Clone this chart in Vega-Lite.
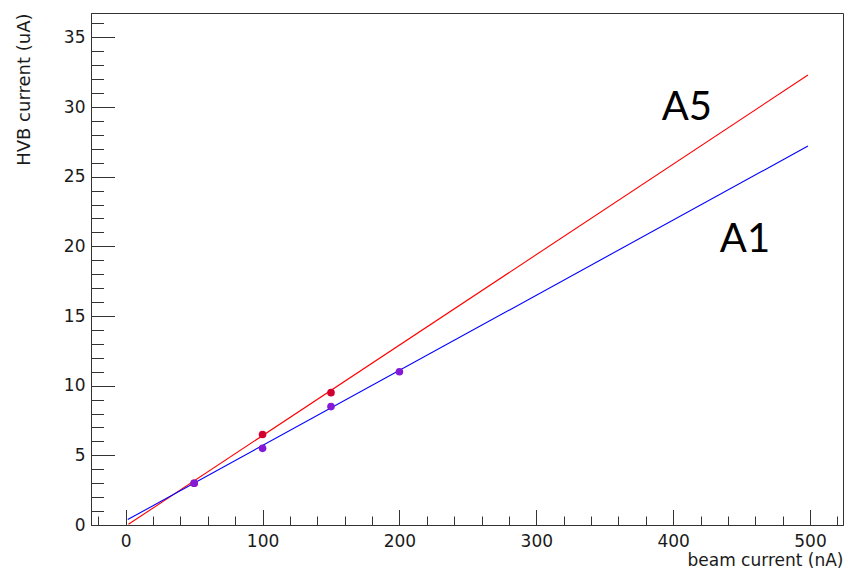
{
  "$schema": "https://vega.github.io/schema/vega-lite/v6.json",
  "width": 752,
  "height": 512,
  "autosize": {"type": "none"},
  "padding": {"left": 91, "top": 13, "right": 5, "bottom": 46},
  "background": "white",
  "config": {
    "view": {"stroke": "#333333", "strokeWidth": 1},
    "axis": {
      "grid": false,
      "domainColor": "#333333",
      "tickColor": "#333333",
      "tickWidth": 1,
      "labelFont": "DejaVu Sans",
      "labelFontSize": 17,
      "labelColor": "#1a1a1a",
      "titleFont": "DejaVu Sans",
      "titleFontSize": 17,
      "titleFontWeight": "normal",
      "titleColor": "#1a1a1a",
      "labelOverlap": false,
      "labelFlush": false,
      "labelBound": false
    }
  },
  "datasets": {
    "fits": [
      {"series": "A5", "beam": 2, "hvb": 0.05},
      {"series": "A5", "beam": 498.5, "hvb": 32.3},
      {"series": "A1", "beam": 1.5, "hvb": 0.39},
      {"series": "A1", "beam": 498.5, "hvb": 27.2}
    ],
    "measured": [
      {"series": "A5", "beam": 50, "hvb": 3.0},
      {"series": "A5", "beam": 100, "hvb": 6.5},
      {"series": "A5", "beam": 150, "hvb": 9.5},
      {"series": "A1", "beam": 50, "hvb": 3.0},
      {"series": "A1", "beam": 100, "hvb": 5.5},
      {"series": "A1", "beam": 150, "hvb": 8.5},
      {"series": "A1", "beam": 200, "hvb": 11.0}
    ],
    "tags": [
      {"label": "A5", "beam": 410, "hvb": 29.1},
      {"label": "A1", "beam": 452.5, "hvb": 19.6}
    ]
  },
  "resolve": {"axis": {"x": "independent", "y": "independent"}},
  "layer": [
    {
      "description": "Fitted lines, carrying the minor tick axes",
      "data": {"name": "fits"},
      "mark": {"type": "line", "strokeWidth": 1.1, "clip": true},
      "encoding": {
        "x": {
          "field": "beam", "type": "quantitative",
          "scale": {"domain": [-25.35, 524.1], "nice": false, "zero": false},
          "axis": {
            "orient": "bottom", "title": null, "labels": false, "domain": true,
            "tickSize": -9,
            "values": [-20, 20, 40, 60, 80, 120, 140, 160, 180, 220, 240, 260, 280, 320, 340, 360, 380, 420, 440, 460, 480, 520]
          }
        },
        "y": {
          "field": "hvb", "type": "quantitative",
          "scale": {"domain": [0, 36.75], "nice": false, "zero": false},
          "axis": {
            "orient": "left", "title": null, "labels": false, "domain": true,
            "tickSize": -12.5,
            "values": [1, 2, 3, 4, 6, 7, 8, 9, 11, 12, 13, 14, 16, 17, 18, 19, 21, 22, 23, 24, 26, 27, 28, 29, 31, 32, 33, 34, 36]
          }
        },
        "stroke": {
          "field": "series", "type": "nominal",
          "scale": {"domain": ["A5", "A1"], "range": ["#ff0000", "#0000ff"]},
          "legend": null
        },
        "detail": {"field": "series"}
      }
    },
    {
      "description": "Measured points, carrying the major tick axes",
      "data": {"name": "measured"},
      "mark": {"type": "point", "shape": "circle", "filled": true, "size": 58, "opacity": 1},
      "encoding": {
        "x": {
          "field": "beam", "type": "quantitative",
          "axis": {
            "orient": "bottom", "title": null, "labels": false, "domain": false,
            "tickSize": -15.5,
            "values": [0, 100, 200, 300, 400, 500]
          }
        },
        "y": {
          "field": "hvb", "type": "quantitative",
          "axis": {
            "orient": "left", "title": null, "labels": false, "domain": false,
            "tickSize": -23.5,
            "values": [0, 5, 10, 15, 20, 25, 30, 35]
          }
        },
        "fill": {
          "field": "series", "type": "nominal",
          "scale": {"domain": ["A5", "A1"], "range": ["#d1002f", "#8419d6"]},
          "legend": null
        }
      }
    },
    {
      "description": "Channel names, carrying the labelled axes",
      "data": {"name": "tags"},
      "mark": {"type": "text", "font": "Lato", "fontSize": 40, "color": "#000000", "align": "center", "baseline": "alphabetic"},
      "encoding": {
        "x": {
          "field": "beam", "type": "quantitative",
          "axis": {
            "orient": "bottom", "title": "beam current (nA)", "ticks": false, "domain": false,
            "labelPadding": 8,
            "values": [0, 100, 200, 300, 400, 500],
            "titleAnchor": "end", "titleAlign": "right", "titleBaseline": "alphabetic", "titleY": 40
          }
        },
        "y": {
          "field": "hvb", "type": "quantitative",
          "axis": {
            "orient": "left", "title": "HVB current (uA)", "ticks": false, "domain": false,
            "labelPadding": 6,
            "values": [0, 5, 10, 15, 20, 25, 30, 35],
            "titleAnchor": "end", "titleAlign": "right", "titleAngle": -90, "titleBaseline": "middle", "titleX": -67, "titleY": 0, "titleFontSize": 18
          }
        },
        "text": {"field": "label"}
      }
    }
  ]
}
